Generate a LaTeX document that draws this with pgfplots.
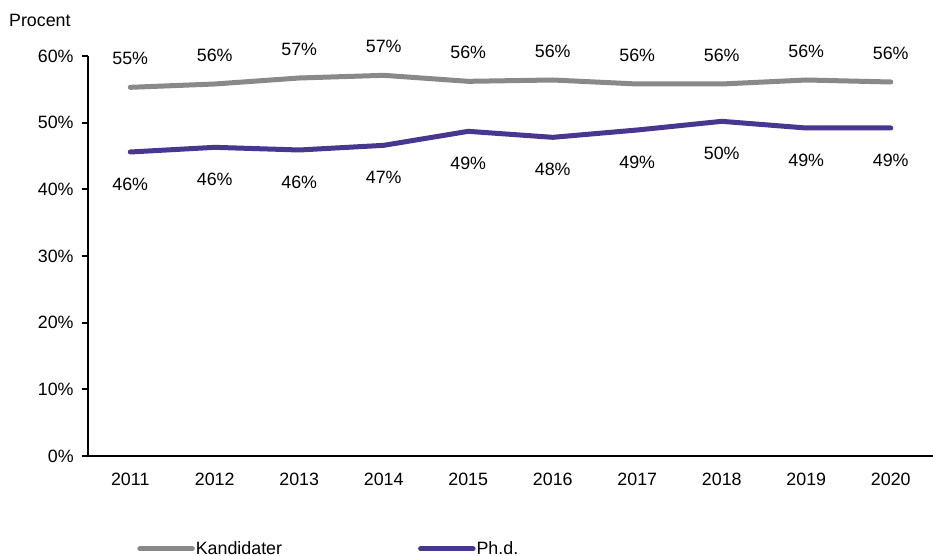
\documentclass[border=0pt]{standalone}
\usepackage{fontspec}
\setmainfont{Liberation Sans}
\usepackage{pgfplots}
\pgfplotsset{compat=1.18}
\usetikzlibrary{calc}

\definecolor{kandgray}{RGB}{137,137,137}
\definecolor{phdpurple}{RGB}{72,54,143}

\begin{document}
\begin{tikzpicture}
\begin{axis}[
  name=ax,
  scale only axis,
  width=507pt, height=240pt,
  xmin=-0.5, xmax=9.5,
  ymin=0, ymax=60,
  axis x line*=bottom,
  axis y line*=left,
  axis line style={-, line width=1.2pt, black},
  xtick={0,...,9},
  xticklabels={2011,2012,2013,2014,2015,2016,2017,2018,2019,2020},
  major x tick style={draw=none},
  extra x ticks={-0.5,0.5,1.5,2.5,3.5,4.5,5.5,6.5,7.5,8.5,9.5},
  extra x tick labels={},
  extra x tick style={major tick length=3.6pt, tick align=outside,
    tick style={line width=1.2pt, black}},
  ytick={0,10,...,60},
  yticklabel={\pgfmathprintnumber{\tick}\%},
  y tick style={line width=1.2pt, black},
  major tick length=3.6pt,
  tick align=outside,
  /pgf/number format/assume math mode=true,
  tick label style={font=\fontsize{10.7}{12.8}\selectfont},
  xticklabel style={yshift=-3pt},
  yticklabel style={xshift=-1.5pt},
  point meta=y,
  nodes near coords={\pgfmathprintnumber[fixed,precision=0]{\pgfplotspointmeta}\%},
  every node near coord/.append style={font=\fontsize{10.7}{12.8}\selectfont, inner sep=0pt},
  legend columns=2,
  legend style={at={(0.058,-0.232)}, anchor=west, draw=none, fill=none,
    inner sep=0pt, font=\fontsize{10.7}{12.8}\selectfont,
    nodes={inner sep=0.6pt},
    /tikz/every even column/.append style={column sep=81pt}},
  legend image code/.code={\draw[#1, line cap=round] (1.5pt,0pt) -- (33pt,0pt);},
]
\addplot[kandgray, line width=3pt, line cap=round, line join=round,
  every node near coord/.append style={anchor=south, yshift=12pt, black}]
  coordinates {
  (0,55.3) (1,55.8) (2,56.7) (3,57.1) (4,56.2)
  (5,56.4) (6,55.8) (7,55.8) (8,56.4) (9,56.1)
};
\addlegendentry{Kandidater}
\addplot[phdpurple, line width=3pt, line cap=round, line join=round,
  every node near coord/.append style={anchor=north, yshift=-14pt, black}]
  coordinates {
  (0,45.6) (1,46.3) (2,45.9) (3,46.6) (4,48.7)
  (5,47.8) (6,48.9) (7,50.2) (8,49.2) (9,49.2)
};
\addlegendentry{Ph.d.}
\end{axis}
\node[anchor=west, inner sep=0pt, font=\fontsize{10.7}{12.8}\selectfont]
  at ($(ax.north west)+(-47.5pt,21.6pt)$) {Procent};
\pgfresetboundingbox
\path[use as bounding box] ($(ax.south west)+(-52.8pt,-60pt)$) rectangle ($(ax.north east)+(0pt,33.6pt)$);
\end{tikzpicture}
\end{document}
